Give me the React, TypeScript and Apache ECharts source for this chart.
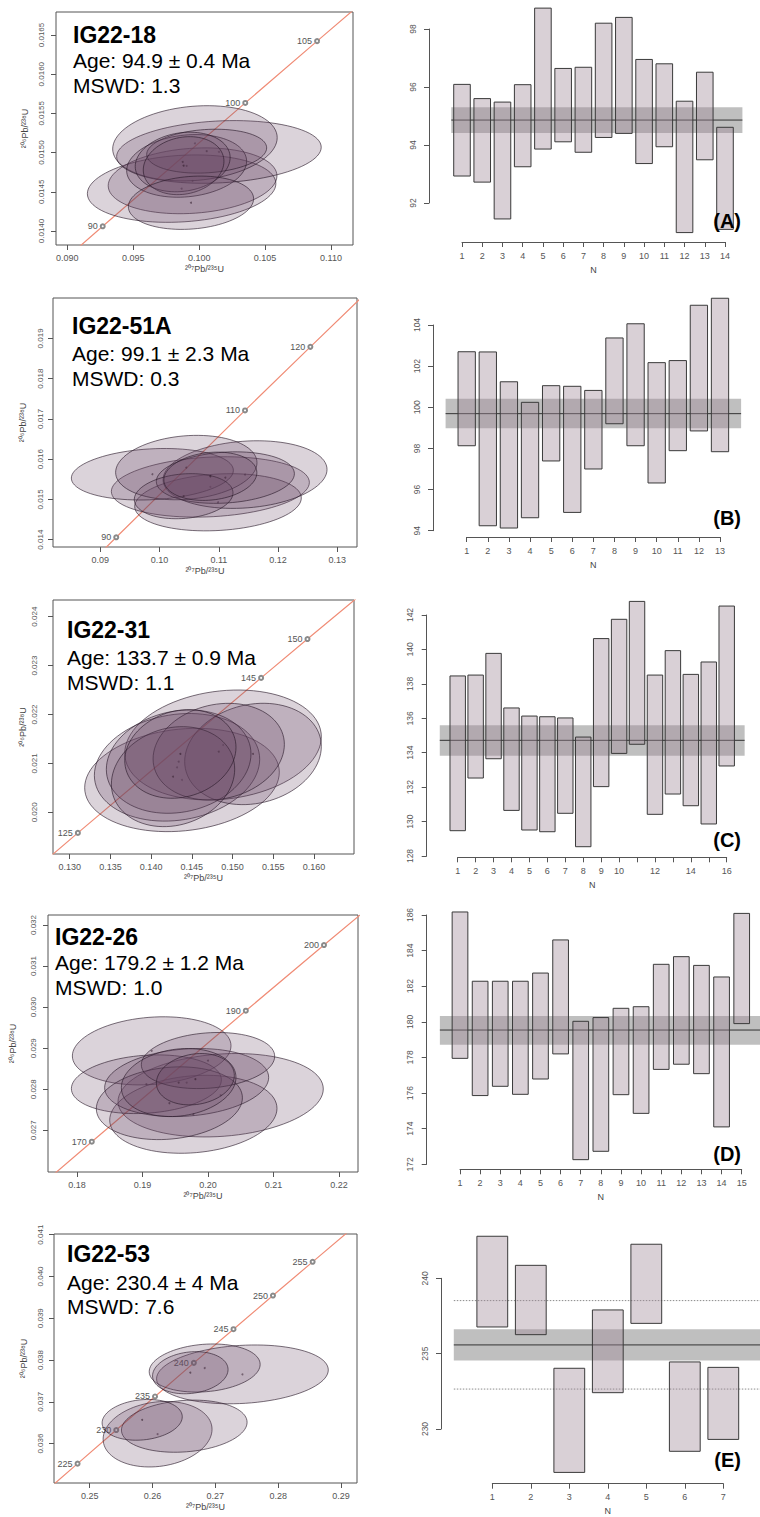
import React, { useEffect, useRef } from "react";
import * as echarts from "echarts";

const FONT = "'Liberation Sans', Arial, Helvetica, sans-serif";

// ================= DATA =================
// Ellipses: [207Pb/235U centre, 206Pb/238U centre, half-width x, half-height y, correlation]
// Concordia reference points: ages (Ma), x (207/235), y (206/238)

// ---- A : IG22-18 ----
const titleA = "IG22-18";
const ageA = "Age: 94.9 ± 0.4 Ma";
const mswdA = "MSWD: 1.3";
const ellA = [
  [0.0995, 0.01464, 0.0064, 0.00042, 0.15],
  [0.09867, 0.01454, 0.00715, 0.00043, 0.15],
  [0.1015, 0.015008, 0.00776, 0.0004, 0.15],
  [0.09968, 0.015118, 0.00624, 0.00048, 0.15],
  [0.09905, 0.01483, 0.00455, 0.0004, 0.15],
  [0.10057, 0.015018, 0.00455, 0.00028, 0.15],
  [0.09875, 0.01488, 0.0036, 0.00038, 0.15],
  [0.09882, 0.014833, 0.00306, 0.00037, 0.15],
  [0.09938, 0.01436, 0.00475, 0.00034, 0.15],
];
const concAgeA = [85, 90, 100, 105, 112];
const concXA = [0.087316, 0.0926833, 0.1034978, 0.1089452, 0.1166166];
const concYA = [0.013273, 0.0140592, 0.0156334, 0.0164215, 0.0175258];
const concLabA = [90, 100, 105];
const xTicksA = [0.09, 0.095, 0.1, 0.105, 0.11];
const yTicksA = [0.014, 0.0145, 0.015, 0.0155, 0.016, 0.0165];
const lowA = [92.93, 92.72, 91.45, 93.25, 93.86, 94.11, 93.75, 94.26, 94.4, 93.36, 93.94, 90.98, 93.49, 91.09];
const highA = [96.09, 95.6, 95.48, 96.08, 98.72, 96.64, 96.68, 98.2, 98.4, 96.95, 96.8, 95.51, 96.51, 94.61];
const meanA = 94.86;
const bandA = [94.41, 95.3];
const bandXA = [0.47, 14.86];
const yTickRangeA = [92, 98];

// ---- B : IG22-51A ----
const titleB = "IG22-51A";
const ageB = "Age: 99.1 ± 2.3 Ma";
const mswdB = "MSWD: 0.3";
const ellB = [
  [0.10857, 0.01531, 0.01671, 0.00075, 0.15],
  [0.10986, 0.014929, 0.01406, 0.00071, 0.15],
  [0.11442, 0.015617, 0.01384, 0.00084, 0.15],
  [0.09878, 0.015625, 0.01367, 0.00064, 0.15],
  [0.10451, 0.015791, 0.01193, 0.0008, 0.15],
  [0.1111, 0.015542, 0.01165, 0.00064, 0.15],
  [0.10406, 0.01508, 0.00833, 0.00056, 0.15],
  [0.10857, 0.015575, 0.00785, 0.0006, 0.15],
];
const concAgeB = [85, 90, 110, 120, 130];
const concXB = [0.087316, 0.0926833, 0.1144193, 0.1254489, 0.1365877];
const concYB = [0.013273, 0.0140592, 0.0172102, 0.0187893, 0.020371];
const concLabB = [90, 110, 120];
const xTicksB = [0.09, 0.1, 0.11, 0.12, 0.13];
const yTicksB = [0.014, 0.015, 0.016, 0.017, 0.018, 0.019];
const lowB = [98.13, 94.24, 94.13, 94.63, 97.39, 94.89, 97.0, 99.2, 98.13, 96.32, 97.89, 98.85, 97.84];
const highB = [102.7, 102.69, 101.24, 100.24, 101.05, 101.02, 100.82, 103.37, 104.06, 102.17, 102.27, 104.96, 105.3];
const meanB = 99.69;
const bandB = [98.98, 100.42];
const bandXB = [0, 14];
const yTickRangeB = [94, 104];

// ---- C : IG22-31 ----
const titleC = "IG22-31";
const ageC = "Age: 133.7 ± 0.9 Ma";
const mswdC = "MSWD: 1.1";
const ellC = [
  [0.14379, 0.020661, 0.01195, 0.001056, 0.15],
  [0.14883, 0.021376, 0.01207, 0.001124, 0.15],
  [0.14318, 0.02092, 0.01015, 0.0011, 0.15],
  [0.15251, 0.021193, 0.00839, 0.001036, 0.15],
  [0.14338, 0.021036, 0.00888, 0.001056, 0.15],
  [0.1483, 0.02124, 0.00806, 0.000988, 0.15],
  [0.14269, 0.020729, 0.00757, 0.001022, 0.15],
  [0.14359, 0.021193, 0.00683, 0.000906, 0.15],
];
const concAgeC = [120, 125, 145, 150, 160];
const concXC = [0.1254489, 0.1310046, 0.1535028, 0.159197, 0.1706697];
const concYC = [0.0187893, 0.0195798, 0.022748, 0.0235416, 0.0251306];
const concLabC = [125, 145, 150];
const xTicksC = [0.13, 0.135, 0.14, 0.145, 0.15, 0.155, 0.16];
const yTicksC = [0.02, 0.021, 0.022, 0.023, 0.024];
const lowC = [129.47, 132.53, 133.65, 130.65, 129.51, 129.41, 130.48, 128.54, 132.03, 133.96, 134.49, 130.42, 131.6, 130.92, 129.86, 133.23];
const highC = [138.46, 138.51, 139.77, 136.6, 136.13, 136.09, 136.02, 134.91, 140.63, 141.75, 142.79, 138.51, 139.93, 138.55, 139.27, 142.52];
const meanC = 134.72;
const bandC = [133.83, 135.59];
const bandXC = [0, 17];
const yTickRangeC = [128, 142];
const hiddenNC = [11, 13, 15];

// ---- D : IG22-26 ----
const titleD = "IG22-26";
const ageD = "Age: 179.2 ± 1.2 Ma";
const mswdD = "MSWD: 1.0";
const ellD = [
  [0.20193, 0.027854, 0.01567, 0.001016, 0.15],
  [0.19776, 0.02739, 0.01277, 0.00095, 0.15],
  [0.1914, 0.028935, 0.01211, 0.00083, 0.15],
  [0.19059, 0.028122, 0.01145, 0.000715, 0.15],
  [0.19674, 0.028163, 0.01252, 0.000829, 0.15],
  [0.1941, 0.027659, 0.01115, 0.000886, 0.15],
  [0.2, 0.028699, 0.01018, 0.000683, 0.15],
  [0.19552, 0.028163, 0.00875, 0.000829, 0.15],
  [0.19807, 0.028244, 0.00595, 0.000626, 0.15],
];
const concAgeD = [165, 170, 190, 200, 206];
const concXD = [0.1764486, 0.182256, 0.2057737, 0.2177075, 0.2249246];
const concYD = [0.025926, 0.026722, 0.0299124, 0.0315113, 0.0324718];
const concLabD = [170, 190, 200];
const xTicksD = [0.18, 0.19, 0.2, 0.21, 0.22];
const yTicksD = [0.027, 0.028, 0.029, 0.03, 0.031, 0.032];
const lowD = [177.95, 175.86, 176.38, 175.93, 176.79, 178.2, 172.26, 172.73, 175.91, 174.86, 177.33, 177.62, 177.09, 174.1, 179.9];
const highD = [186.17, 182.28, 182.28, 182.28, 182.74, 184.6, 180.03, 180.24, 180.76, 180.85, 183.23, 183.66, 183.17, 182.52, 186.09];
const meanD = 179.54;
const bandD = [178.72, 180.33];
const bandXD = [0, 16];
const yTickRangeD = [172, 186];

// ---- E : IG22-53 ----
const titleE = "IG22-53";
const ageE = "Age: 230.4 ± 4 Ma";
const mswdE = "MSWD: 7.6";
const ellE = [
  [0.27431, 0.037656, 0.01367, 0.000704, 0.15],
  [0.2608, 0.036224, 0.00867, 0.000784, 0.15],
  [0.26505, 0.036416, 0.01, 0.000624, 0.15],
  [0.2683, 0.037808, 0.00883, 0.000576, 0.15],
  [0.26601, 0.037696, 0.00601, 0.000504, 0.15],
  [0.25835, 0.036568, 0.00638, 0.000488, 0.15],
];
const concAgeE = [222, 225, 230, 235, 240, 245, 250, 255, 260];
const concXE = [0.244379, 0.248061, 0.2542223, 0.2603928, 0.2665754, 0.2728875, 0.2791713, 0.2854854, 0.2918315];
const concYE = [0.0350376, 0.0355193, 0.0363228, 0.0371269, 0.0379316, 0.038737, 0.039543, 0.0403496, 0.0411568];
const concLabE = [225, 230, 235, 240, 245, 250, 255];
const xTicksE = [0.25, 0.26, 0.27, 0.28, 0.29];
const yTicksE = [0.036, 0.037, 0.038, 0.039, 0.04, 0.041];
const lowE = [236.77, 236.26, 227.12, 232.41, 237.01, 228.52, 229.31];
const highE = [242.79, 240.86, 234.03, 237.9, 242.26, 234.45, 234.09];
const meanE = 235.58;
const bandE = [234.54, 236.62];
const bandXE = [0, 8];
const yTickRangeE = [230, 240];
const dottedE = [232.65, 238.52];

// ================= LAYOUT (pixels) =================
const panels: any[] = [
  {
    title: titleA, age: ageA, mswd: mswdA, ell: ellA, cAge: concAgeA, cX: concXA, cY: concYA, cLab: concLabA,
    xT: xTicksA, yT: yTicksA, xDec: 3, yDec: 4, xr: [0.08914, 0.11167], yr: [0.013821, 0.016793],
    low: lowA, high: highA, mean: meanA, band: bandA, bandX: bandXA, yTR: yTickRangeA, yInt: 2, hiddenN: [], dotted: null, letter: "(A)",
    L: { left: 56, top: 12, width: 297, height: 233, labM: 11, nameGap: 27 },
    R: { left: 462, top: 29, width: 263, height: 174, yOff: 33, xOff: 39, barW: 0.82 },
    T: { x: 73, t: 35, a: 60.5, m: 85.5 }, letterY: 221,
  },
  {
    title: titleB, age: ageB, mswd: mswdB, ell: ellB, cAge: concAgeB, cX: concXB, cY: concYB, cLab: concLabB,
    xT: xTicksB, yT: yTicksB, xDec: 2, yDec: 3, xr: [0.08201, 0.13332], yr: [0.013818, 0.020003],
    low: lowB, high: highB, mean: meanB, band: bandB, bandX: bandXB, yTR: yTickRangeB, yInt: 2, hiddenN: [], dotted: null, letter: "(B)",
    L: { left: 53, top: 298, width: 304, height: 249, labM: 9, nameGap: 26 },
    R: { left: 466.7, top: 325, width: 253.3, height: 205.7, yOff: 33.7, xOff: 6.3, barW: 0.82 },
    T: { x: 72, t: 326, a: 353.5, m: 378.5 }, letterY: 518,
  },
  {
    title: titleC, age: ageC, mswd: mswdC, ell: ellC, cAge: concAgeC, cX: concXC, cY: concYC, cLab: concLabC,
    xT: xTicksC, yT: yTicksC, xDec: 3, yDec: 3, xr: [0.12795, 0.16491], yr: [0.019148, 0.02434],
    low: lowC, high: highC, mean: meanC, band: bandC, bandX: bandXC, yTR: yTickRangeC, yInt: 2, hiddenN: hiddenNC, dotted: null, letter: "(C)",
    L: { left: 53, top: 600, width: 301, height: 254, labM: 15, nameGap: 26 },
    R: { left: 457.7, top: 615, width: 269, height: 241, yOff: 31, xOff: 1.3, barW: 0.86 },
    T: { x: 67, t: 630, a: 657.5, m: 682.5 }, letterY: 840,
  },
  {
    title: titleD, age: ageD, mswd: mswdD, ell: ellD, cAge: concAgeD, cX: concXD, cY: concYD, cLab: concLabD,
    xT: xTicksD, yT: yTicksD, xDec: 2, yDec: 3, xr: [0.17557, 0.2229], yr: [0.025984, 0.032244],
    low: lowD, high: highD, mean: meanD, band: bandD, bandX: bandXD, yTR: yTickRangeD, yInt: 2, hiddenN: [], dotted: null, letter: "(D)",
    L: { left: 48, top: 915, width: 310, height: 257, labM: 11, nameGap: 31 },
    R: { left: 460, top: 915, width: 281.7, height: 249.3, yOff: 33.3, xOff: 5, barW: 0.78 },
    T: { x: 55, t: 937, a: 962.5, m: 987.5 }, letterY: 1154,
  },
  {
    title: titleE, age: ageE, mswd: mswdE, ell: ellE, cAge: concAgeE, cX: concXE, cY: concYE, cLab: concLabE,
    xT: xTicksE, yT: yTicksE, xDec: 2, yDec: 3, xr: [0.24431, 0.29255], yr: [0.035056, 0.041016],
    low: lowE, high: highE, mean: meanE, band: bandE, bandX: bandXE, yTR: yTickRangeE, yInt: 5, hiddenN: [], dotted: dottedE, letter: "(E)",
    L: { left: 54, top: 1234, width: 303, height: 249, labM: 10, nameGap: 26 },
    R: { left: 492.3, top: 1278.3, width: 231, height: 150.7, yOff: 51.3, xOff: 54.7, barW: 0.8 },
    T: { x: 67, t: 1254, a: 1282.5, m: 1306.5 }, letterY: 1460,
  },
];

const AXIS = "#555";
const LABEL = "#555";

function buildOption() {
  const grid: any[] = [];
  const xAxis: any[] = [];
  const yAxis: any[] = [];
  const series: any[] = [];
  const elements: any[] = [];

  panels.forEach((p, i) => {
    const gl = 2 * i;
    const gr = 2 * i + 1;
    grid.push({ left: p.L.left, top: p.L.top, width: p.L.width, height: p.L.height, show: true, borderColor: AXIS, borderWidth: 1, backgroundColor: "transparent", containLabel: false, outerBoundsMode: "none" });
    grid.push({ left: p.R.left, top: p.R.top, width: p.R.width, height: p.R.height, show: false, containLabel: false, outerBoundsMode: "none" });

    // ---- left concordia axes ----
    xAxis.push({
      type: "value", gridIndex: gl, min: p.xr[0], max: p.xr[1],
      axisLine: { show: false },
      axisTick: { show: true, length: 5, inside: false, customValues: p.xT, lineStyle: { color: AXIS } },
      axisLabel: { customValues: p.xT, formatter: (v: number) => v.toFixed(p.xDec), fontSize: 9, color: LABEL, margin: 8, fontFamily: FONT },
      splitLine: { show: false },
      name: "²⁰⁷Pb/²³⁵U", nameLocation: "middle", nameGap: 19,
      nameTextStyle: { fontSize: 9, color: "#444", fontFamily: FONT },
    });
    yAxis.push({
      type: "value", gridIndex: gl, min: p.yr[0], max: p.yr[1],
      axisLine: { show: false },
      axisTick: { show: true, length: 5, inside: false, customValues: p.yT, lineStyle: { color: AXIS } },
      axisLabel: { customValues: p.yT, formatter: (v: number) => v.toFixed(p.yDec), rotate: 90, fontSize: 8, color: LABEL, margin: p.L.labM, fontFamily: FONT },
      splitLine: { show: false },
      name: "²⁰⁶Pb/²³⁸U", nameLocation: "middle", nameGap: p.L.nameGap, nameRotate: 90,
      nameTextStyle: { fontSize: 9, color: "#444", fontFamily: FONT },
    });

    // ---- right bar axes ----
    const n = p.low.length;
    xAxis.push({
      type: "value", gridIndex: gr, min: 1, max: n, interval: 1, offset: p.R.xOff,
      axisLine: { show: true, lineStyle: { color: AXIS } },
      axisTick: { show: true, length: 5, inside: false, lineStyle: { color: AXIS } },
      axisLabel: {
        fontSize: 9, color: LABEL, margin: 9, fontFamily: FONT,
        formatter: (v: number) => (p.hiddenN.includes(v) ? "" : String(v)),
      },
      splitLine: { show: false },
      name: "N", nameLocation: "middle", nameGap: 23,
      nameTextStyle: { fontSize: 9, color: "#444", fontFamily: FONT },
    });
    yAxis.push({
      type: "value", gridIndex: gr, min: p.yTR[0], max: p.yTR[1], interval: p.yInt, offset: p.R.yOff,
      axisLine: { show: true, lineStyle: { color: AXIS } },
      axisTick: { show: true, length: 5, inside: false, lineStyle: { color: AXIS } },
      axisLabel: { rotate: 90, fontSize: 8.5, color: LABEL, margin: 12, fontFamily: FONT },
      splitLine: { show: false },
    });

    // ---- concordia line ----
    series.push({
      type: "line", xAxisIndex: gl, yAxisIndex: gl, z: 1, clip: true,
      data: p.cX.map((x: number, k: number) => {
        const show = p.cLab.includes(p.cAge[k]);
        return {
          value: [x, p.cY[k]],
          symbol: show ? "emptyCircle" : "none",
          label: { show, formatter: String(p.cAge[k]) },
        };
      }),
      showAllSymbol: true,
      symbolSize: 4,
      lineStyle: { color: "#f08c76", width: 1.2 },
      itemStyle: { color: "#8a8a8a", borderWidth: 0.7 },
      label: { position: "left", distance: 2, fontSize: 9, color: "#555", fontFamily: FONT },
      emphasis: { disabled: true },
      silent: true,
    });

    // ---- error ellipses ----
    series.push({
      type: "custom", xAxisIndex: gl, yAxisIndex: gl, z: 2, clip: true,
      data: p.ell,
      encode: { x: 0, y: 1 },
      silent: true,
      renderItem: (_params: any, api: any) => {
        const cx = api.value(0), cy = api.value(1), sx = api.value(2), sy = api.value(3), rho = api.value(4);
        const s = Math.sqrt(1 - rho * rho);
        const pts: number[][] = [];
        for (let k = 0; k < 90; k++) {
          const t = (k / 90) * Math.PI * 2;
          pts.push(api.coord([cx + sx * Math.cos(t), cy + sy * (rho * Math.cos(t) + s * Math.sin(t))]));
        }
        const c = api.coord([cx, cy]);
        return {
          type: "group",
          children: [
            {
              type: "polygon",
              shape: { points: pts },
              style: { fill: "rgba(105,70,100,0.24)", stroke: "rgba(40,25,40,0.62)", lineWidth: 1 },
            },
            { type: "circle", shape: { cx: c[0], cy: c[1], r: 1 }, style: { fill: "rgba(40,20,35,0.55)" } },
          ],
        };
      },
    });

    // ---- weighted mean band + line ----
    series.push({
      type: "custom", xAxisIndex: gr, yAxisIndex: gr, z: 1, clip: false, silent: true,
      data: [[p.bandX[0], p.bandX[1], p.band[0], p.band[1], p.mean]],
      renderItem: (_params: any, api: any) => {
        const x0 = api.value(0), x1 = api.value(1), lo = api.value(2), hi = api.value(3), m = api.value(4);
        const a = api.coord([x0, hi]);
        const b = api.coord([x1, lo]);
        const c = api.coord([x0, m]);
        const d = api.coord([x1, m]);
        return {
          type: "group",
          children: [
            { type: "rect", shape: { x: a[0], y: a[1], width: b[0] - a[0], height: b[1] - a[1] }, style: { fill: "#bfbfbf" } },
            { type: "line", shape: { x1: c[0], y1: c[1], x2: d[0], y2: d[1] }, style: { stroke: "#333", lineWidth: 1 } },
          ],
        };
      },
    });

    if (p.dotted) {
      series.push({
        type: "custom", xAxisIndex: gr, yAxisIndex: gr, z: 1, clip: false, silent: true,
        data: p.dotted.map((y: number) => [p.bandX[0], p.bandX[1], y]),
        renderItem: (_params: any, api: any) => {
          const a = api.coord([api.value(0), api.value(2)]);
          const b = api.coord([api.value(1), api.value(2)]);
          return { type: "line", shape: { x1: a[0], y1: a[1], x2: b[0], y2: b[1] }, style: { stroke: "#8a8a8a", lineWidth: 1, lineDash: [1.5, 1.5] } };
        },
      });
    }

    // ---- age bars ----
    const w = p.R.barW;
    series.push({
      type: "custom", xAxisIndex: gr, yAxisIndex: gr, z: 3, clip: false, silent: true,
      data: p.low.map((lo: number, k: number) => [k + 1, lo, p.high[k]]),
      renderItem: (_params: any, api: any) => {
        const x = api.value(0), lo = api.value(1), hi = api.value(2);
        const a = api.coord([x - w / 2, hi]);
        const b = api.coord([x + w / 2, lo]);
        return {
          type: "rect",
          shape: { x: a[0], y: a[1], width: b[0] - a[0], height: b[1] - a[1] },
          style: { fill: "rgba(160,138,152,0.4)", stroke: "#3a3a3a", lineWidth: 1 },
        };
      },
    });

    // ---- texts ----
    const txt = (text: string, x: number, y: number, size: number, bold: boolean, align = "left") => ({
      type: "text", x, y, z: 100,
      style: {
        text, fontSize: size, fontWeight: bold ? "bold" : "normal", fontFamily: FONT, fill: "#000",
        align, verticalAlign: "middle", textAlign: align, textVerticalAlign: "middle",
      },
    });
    elements.push(txt(p.title, p.T.x, p.T.t, 23, true));
    elements.push(txt(p.age, p.T.x, p.T.a, 21, false));
    elements.push(txt(p.mswd, p.T.x, p.T.m, 21, false));
    elements.push(txt(p.letter, 741, p.letterY, 20, true, "right"));
  });

  return {
    animation: false,
    backgroundColor: "#fff",
    textStyle: { fontFamily: FONT },
    grid,
    xAxis,
    yAxis,
    series,
    graphic: { elements },
  };
}

export default function App() {
  const ref = useRef<HTMLDivElement>(null);
  useEffect(() => {
    document.body.style.margin = "0";
    const chart = echarts.init(ref.current as HTMLDivElement, null, { renderer: "svg" });
    chart.setOption(buildOption() as any);
    return () => chart.dispose();
  }, []);
  return <div ref={ref} style={{ width: 760, height: 1517, background: "#fff" }} />;
}
